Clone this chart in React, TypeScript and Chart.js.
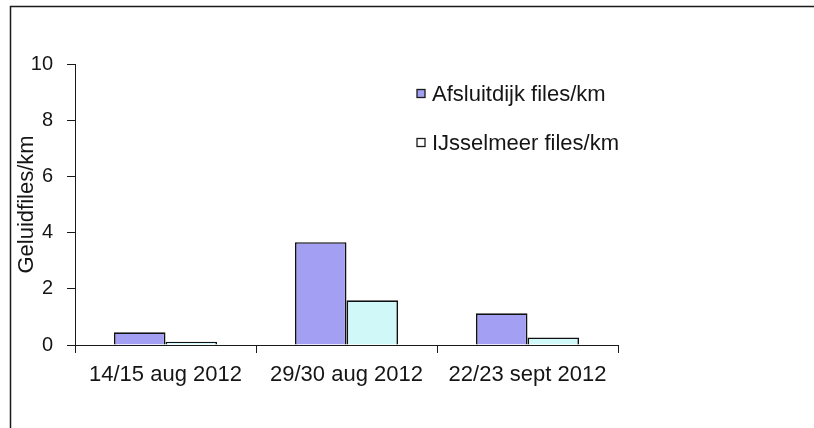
import React, { useEffect, useRef } from "react";
import { Chart, registerables } from "chart.js";

Chart.register(...registerables);

const categories = ["14/15 aug 2012", "29/30 aug 2012", "22/23 sept 2012"];
const afsluitdijk = [0.45, 3.66, 1.13];
const ijsselmeer = [0.12, 1.59, 0.27];
const seriesNames = ["Afsluitdijk files/km", "IJsselmeer files/km"];
const yTicks = [0, 2, 4, 6, 8, 10];
const yTitle = "Geluidfiles/km";

const FONT = "Arial, 'Liberation Sans', sans-serif";

const framePlugin = {
  id: "frame",
  afterDraw(chart: any) {
    const ctx = chart.ctx;
    ctx.save();
    ctx.strokeStyle = "#1a1a1a";
    ctx.lineWidth = 1.5;
    ctx.beginPath();
    ctx.moveTo(10.5, 428);
    ctx.lineTo(10.5, 6.5);
    ctx.lineTo(814, 6.5);
    ctx.stroke();
    ctx.restore();
  },
};

const legendPlugin = {
  id: "customLegend",
  afterDraw(chart: any) {
    const ctx = chart.ctx;
    ctx.save();
    ctx.font = `22px ${FONT}`;
    ctx.textBaseline = "middle";
    ctx.textAlign = "left";
    const rows = [93.5, 142.5];
    chart.data.datasets.forEach((ds: any, i: number) => {
      const cy = rows[i];
      ctx.fillStyle = i === 0 ? ds.backgroundColor : "#ffffff";
      ctx.fillRect(417, cy - 4, 8, 8);
      ctx.strokeStyle = "#1a1a1a";
      ctx.lineWidth = 1.3;
      ctx.strokeRect(417, cy - 4, 8, 8);
      ctx.fillStyle = "#151515";
      ctx.fillText(ds.label, 432, cy + 1);
    });
    ctx.restore();
  },
};

export default function App() {
  const ref = useRef<HTMLCanvasElement>(null);

  useEffect(() => {
    document.body.style.margin = "0";
    const canvas = ref.current!;
    const chart = new Chart(canvas, {
      type: "bar",
      data: {
        labels: categories,
        datasets: [
          {
            label: seriesNames[0],
            data: afsluitdijk,
            backgroundColor: "#a3a0f4",
            borderColor: "#111111",
            borderWidth: 1.7,
            categoryPercentage: 0.57,
            barPercentage: 1,
          },
          {
            label: seriesNames[1],
            data: ijsselmeer,
            backgroundColor: "#d0f8f8",
            borderColor: "#111111",
            borderWidth: 1.7,
            categoryPercentage: 0.57,
            barPercentage: 1,
          },
        ],
      },
      options: {
        responsive: false,
        animation: false,
        devicePixelRatio: 1,
        layout: { padding: { top: 64, right: 196, left: 0, bottom: 0 } },
        plugins: {
          legend: { display: false },
          tooltip: { enabled: false },
        },
        scales: {
          x: {
            offset: true,
            grid: {
              offset: true,
              drawOnChartArea: false,
              drawTicks: true,
              tickLength: 8,
              color: "#1a1a1a",
            },
            border: { display: true, color: "#1a1a1a", width: 1 },
            ticks: {
              color: "#151515",
              font: { family: FONT, size: 22 },
              padding: 9,
              maxRotation: 0,
              minRotation: 0,
              autoSkip: false,
            },
            afterFit(scale: any) {
              scale.height = 428 - 345;
            },
          },
          y: {
            min: 0,
            max: 10,
            afterBuildTicks(scale: any) {
              scale.ticks = yTicks.map((v) => ({ value: v }));
            },
            grid: {
              drawOnChartArea: false,
              drawTicks: true,
              tickLength: 8,
              color: "#1a1a1a",
            },
            border: { display: true, color: "#1a1a1a", width: 1 },
            ticks: {
              color: "#151515",
              font: { family: FONT, size: 20 },
              padding: 14,
            },
            title: {
              display: true,
              text: yTitle,
              color: "#151515",
              font: { family: FONT, size: 22 },
              padding: { top: 14, bottom: 0 },
            },
            afterFit(scale: any) {
              scale.width = 75;
            },
          },
        },
      },
      plugins: [framePlugin, legendPlugin],
    });
    return () => chart.destroy();
  }, []);

  return (
    <div style={{ width: 814, height: 428, background: "#ffffff" }}>
      <canvas ref={ref} width={814} height={428} style={{ display: "block" }} />
    </div>
  );
}
